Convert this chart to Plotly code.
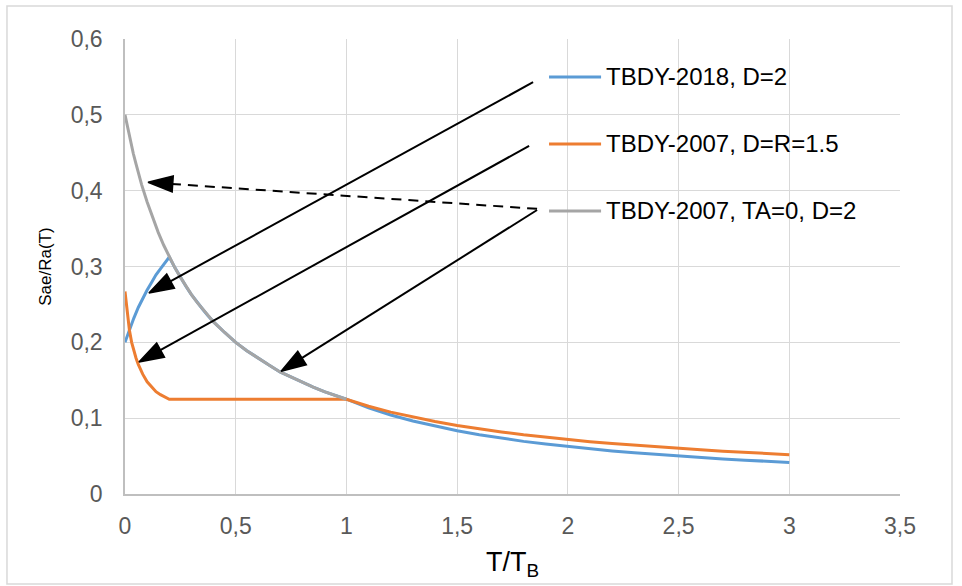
import plotly.graph_objects as go

# Normalised spectra Sae/Ra against T/TB
t_blue = [0, 0.02, 0.04, 0.06, 0.08, 0.10, 0.12, 0.14, 0.16, 0.18, 0.20, 0.225, 0.25,
          0.275, 0.30, 0.325, 0.35, 0.375, 0.40, 0.45, 0.50, 0.55, 0.60, 0.65, 0.70, 0.75,
          0.80, 0.85, 0.90, 0.95, 1.00, 1.1, 1.2, 1.3, 1.4, 1.5, 1.6, 1.7, 1.8, 1.9, 2.0,
          2.1, 2.2, 2.3, 2.4, 2.5, 2.6, 2.7, 2.8, 2.9, 3.0]
sa_blue = [0.200, 0.217, 0.232, 0.246, 0.258, 0.269, 0.279, 0.289, 0.297, 0.305, 0.3125,
           0.2985, 0.286, 0.274, 0.263, 0.253, 0.244, 0.235, 0.227, 0.213, 0.200, 0.189,
           0.179, 0.170, 0.161, 0.154, 0.147, 0.141, 0.135, 0.130, 0.125, 0.1136, 0.1042,
           0.0962, 0.0893, 0.0833, 0.0781, 0.0735, 0.0694, 0.0658, 0.0625, 0.0595, 0.0568,
           0.0543, 0.0521, 0.0500, 0.0481, 0.0463, 0.0446, 0.0431, 0.0417]

t_orange = [0, 0.01, 0.02, 0.03, 0.04, 0.05, 0.06, 0.08, 0.10, 0.12, 0.14, 0.16, 0.18,
            0.20, 1.0, 1.1, 1.2, 1.3, 1.4, 1.5, 1.6, 1.7, 1.8, 1.9, 2.0, 2.1, 2.2, 2.3,
            2.4, 2.5, 2.6, 2.7, 2.8, 2.9, 3.0]
sa_orange = [0.267, 0.238, 0.216, 0.200, 0.188, 0.179, 0.171, 0.158, 0.148, 0.141, 0.135,
             0.131, 0.128, 0.125, 0.125, 0.1158, 0.1080, 0.1013, 0.0955, 0.0904, 0.0858,
             0.0818, 0.0781, 0.0748, 0.0718, 0.0690, 0.0665, 0.0642, 0.0621, 0.0601,
             0.0582, 0.0565, 0.0549, 0.0533, 0.0519]

t_grey = [0, 0.0125, 0.025, 0.0375, 0.05, 0.075, 0.1, 0.125, 0.15, 0.175, 0.2, 0.225,
          0.25, 0.275, 0.3, 0.325, 0.35, 0.375, 0.4, 0.45, 0.5, 0.55, 0.6, 0.65, 0.7,
          0.75, 0.8, 0.85, 0.9, 0.95, 1.0]
sa_grey = [0.500, 0.482, 0.465, 0.449, 0.435, 0.408, 0.385, 0.364, 0.345, 0.328, 0.3125,
           0.2985, 0.286, 0.274, 0.263, 0.253, 0.244, 0.235, 0.227, 0.213, 0.200, 0.189,
           0.179, 0.170, 0.161, 0.154, 0.147, 0.141, 0.135, 0.130, 0.125]

series_names = ["TBDY-2018, D=2", "TBDY-2007, D=R=1.5", "TBDY-2007, TA=0, D=2"]
series_colors = ["#5B9BD5", "#ED7D31", "#A5A5A5"]

x_ticks = [0, 0.5, 1, 1.5, 2, 2.5, 3, 3.5]
y_ticks = [0, 0.1, 0.2, 0.3, 0.4, 0.5, 0.6]

# Pointer arrows from the legend rows to the curves (tail -> tip, data units)
arrow_tail_x = [1.843, 1.825, 1.861, 1.861]
arrow_tail_y = [0.543, 0.459, 0.3745, 0.376]
arrow_tip_x = [0.108, 0.063, 0.705, 0.104]
arrow_tip_y = [0.265, 0.174, 0.162, 0.411]
arrow_dash = ["solid", "solid", "solid", "10px,7px"]

# Legend rows (line sample position and label anchor)
legend_x0, legend_x1, legend_text_x = 1.915, 2.150, 2.163
legend_y = [0.5499, 0.4616, 0.3732]

FONT = "Liberation Sans, Arial, sans-serif"

fig = go.Figure()
for xs, ys, name, col in zip([t_blue, t_orange, t_grey], [sa_blue, sa_orange, sa_grey],
                             series_names, series_colors):
    fig.add_trace(go.Scatter(x=xs, y=ys, mode="lines", name=name,
                             line=dict(color=col, width=3), showlegend=False))

# Arrows: a shaft with an arrow-head marker oriented along the segment
for tx, ty, hx, hy, dash in zip(arrow_tail_x, arrow_tail_y, arrow_tip_x, arrow_tip_y,
                                arrow_dash):
    fig.add_trace(go.Scatter(
        x=[tx, hx], y=[ty, hy], mode="lines+markers", showlegend=False,
        hoverinfo="skip",
        line=dict(color="#000000", width=2, dash=dash),
        marker=dict(symbol="arrow", angleref="previous", size=[0, 26],
                    color="#000000", opacity=1,
                    line=dict(width=1.5, color="#000000")),
    ))

shapes = []
annotations = []

# Legend drawn inside the plot area
for y, name, col in zip(legend_y, series_names, series_colors):
    shapes.append(dict(type="line", xref="x", yref="y", x0=legend_x0, x1=legend_x1,
                       y0=y, y1=y, line=dict(color=col, width=3)))
    annotations.append(dict(x=legend_text_x, y=y, xref="x", yref="y", text=name,
                            showarrow=False, xanchor="left", yanchor="middle",
                            font=dict(family=FONT, size=24, color="#000000")))

# Outer chart frame
shapes.append(dict(type="rect", xref="paper", yref="paper", x0=-0.1523, x1=1.0671,
                   y0=-0.1978, y1=1.0725, line=dict(color="#D9D9D9", width=1.5),
                   layer="below"))

fig.update_layout(
    width=962, height=586,
    margin=dict(l=125, r=62, t=39, b=92),
    paper_bgcolor="white", plot_bgcolor="white",
    separators=", ",
    font=dict(family=FONT),
    shapes=shapes, annotations=annotations,
    showlegend=False,
)
fig.update_xaxes(
    range=[0, 3.5], tickvals=x_ticks, tickformat=".1~f",
    showgrid=True, gridcolor="#D9D9D9", gridwidth=1.3,
    showline=True, linecolor="#BFBFBF", linewidth=1.5, zeroline=False,
    ticks="", ticklabelstandoff=11,
    tickfont=dict(family=FONT, size=23, color="#595959"),
    title=dict(text="T/T<sub>B</sub>", font=dict(family=FONT, size=27, color="#000000"),
               standoff=14),
)
fig.update_yaxes(
    range=[0, 0.6], tickvals=y_ticks, tickformat=".1~f",
    showgrid=True, gridcolor="#D9D9D9", gridwidth=1.3,
    showline=True, linecolor="#BFBFBF", linewidth=1.5, zeroline=False,
    ticks="", ticklabelstandoff=16,
    tickfont=dict(family=FONT, size=23, color="#595959"),
    title=dict(text="Sae/Ra(T)", font=dict(family=FONT, size=17, color="#000000"),
               standoff=15),
)

fig.write_html("out.html")
